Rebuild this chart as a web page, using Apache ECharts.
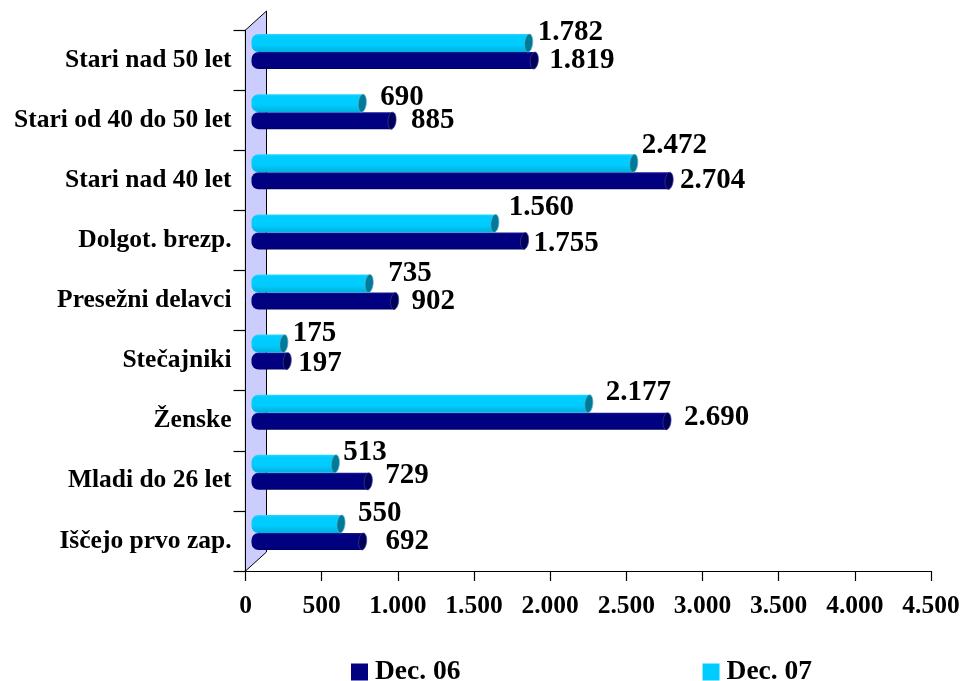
<!DOCTYPE html>
<html><head><meta charset="utf-8">
<style>html,body{margin:0;padding:0;background:#fff}#c{width:964px;height:681px}</style>
<script src="https://cdn.jsdelivr.net/npm/echarts@6/dist/echarts.min.js"></script>
</head><body><div id="c"></div>
<script>
const categories = ['Iščejo prvo zap.','Mladi do 26 let','Ženske','Stečajniki','Presežni delavci','Dolgot. brezp.','Stari nad 40 let','Stari od 40 do 50 let','Stari nad 50 let'];
const dec06 = [692,729,2690,197,902,1755,2704,885,1819];
const dec07 = [550,513,2177,175,735,1560,2472,690,1782];
// label placement nudges [dx,dy] from the bar tip, as in the reference
const nudge06 = [[19,0],[13,-6],[13,-4],[7,2],[13,1],[5,3],[7,0],[15,0],[11,0]];
const nudge07 = [[13,-10],[4,-11],[13,-11],[5,-10],[15,-10],[10,-16],[4,-18],[14,-6],[5,-11]];
const fmt = v => String(v).replace(/\B(?=(\d{3})+$)/g,'.');
const FF = '"Liberation Serif","Times New Roman",serif';

function barSeries(name, values, nudges, off, h, pal){
  return {
    name, type:'custom', z:3, itemStyle:{color:pal.legend},
    encode:{x:0,y:1},
    data: values.map((v,i)=>[v,i]),
    renderItem(params, api){
      const v = api.value(0), i = api.value(1);
      const p = api.coord([v,i]), p0 = api.coord([0,i]);
      const x0 = p0[0]+6, xe = p[0]+11.7, top = p[1]+off;
      const grad = {type:'linear',x:0,y:0,x2:0,y2:1,colorStops:pal.stops};
      const n = nudges[i];
      return {type:'group',children:[
        {type:'rect',shape:{x:x0,y:top,width:xe-x0,height:h,r:[7,0,0,7]},style:{fill:grad}},
        {type:'ellipse',shape:{cx:xe,cy:top+h/2,rx:4,ry:h/2},rotation:-0.1,originX:xe,originY:top+h/2,
          style:{fill:pal.cap,stroke:pal.capEdge,lineWidth:0.7}},
        {type:'text',style:{x:xe+4+n[0],y:top+h/2+n[1],text:fmt(v),fill:'#000',
          font:'bold 29px '+FF,textAlign:'left',textVerticalAlign:'middle'}}
      ]};
    }
  };
}

const chart = echarts.init(document.getElementById('c'),null,{renderer:'canvas'});
chart.setOption({
  animation:false, backgroundColor:'#fff',
  grid:{left:245.5,right:33,top:30,bottom:110},
  legend:{left:346,top:653,itemWidth:17,itemHeight:17,itemGap:242,icon:'rect',
    data:['Dec. 06','Dec. 07'],
    textStyle:{fontFamily:FF,fontWeight:'bold',fontSize:27.5,color:'#000',padding:[0,0,0,2]}},
  xAxis:{type:'value',min:0,max:4500,interval:500,splitLine:{show:false},
    axisLine:{show:true,lineStyle:{color:'#000',width:1.2}},
    axisTick:{show:true,length:10,lineStyle:{color:'#000',width:1.2}},
    axisLabel:{margin:22,fontFamily:FF,fontWeight:'bold',fontSize:25.5,color:'#000',formatter:fmt,hideOverlap:false}},
  yAxis:{type:'category',data:categories,
    axisLine:{show:true,lineStyle:{color:'#000',width:1.2}},
    axisTick:{show:true,length:12,alignWithLabel:false,lineStyle:{color:'#000',width:1.2}},
    axisLabel:{margin:14,interval:0,fontFamily:FF,fontWeight:'bold',fontSize:25.5,color:'#000'}},
  series:[
    {type:'custom',z:1,silent:true,data:[[0,0]],encode:{x:0,y:1},
     renderItem(params){
       const c=params.coordSys, dx=21, dy=19;
       return {type:'polygon',shape:{points:[[c.x,c.y],[c.x+dx,c.y-dy],[c.x+dx,c.y+c.height-dy],[c.x,c.y+c.height]]},
         style:{fill:'#CCCCFF',stroke:'#000',lineWidth:1}};
     }},
    barSeries('Dec. 06',dec06,nudge06,-8,17,{legend:'#000080',cap:'#000058',capEdge:'#3a3aa0',
      stops:[{offset:0,color:'#1a1a98'},{offset:0.12,color:'#000080'},{offset:0.85,color:'#000080'},{offset:1,color:'#000068'}]}),
    barSeries('Dec. 07',dec07,nudge07,-26,18,{legend:'#00CCFF',cap:'#007A99',capEdge:'#5fb0c4',
      stops:[{offset:0,color:'#2ad6ff'},{offset:0.12,color:'#00CCFF'},{offset:0.6,color:'#00CCFF'},{offset:1,color:'#00B0DC'}]})
  ]
});
</script></body></html>
